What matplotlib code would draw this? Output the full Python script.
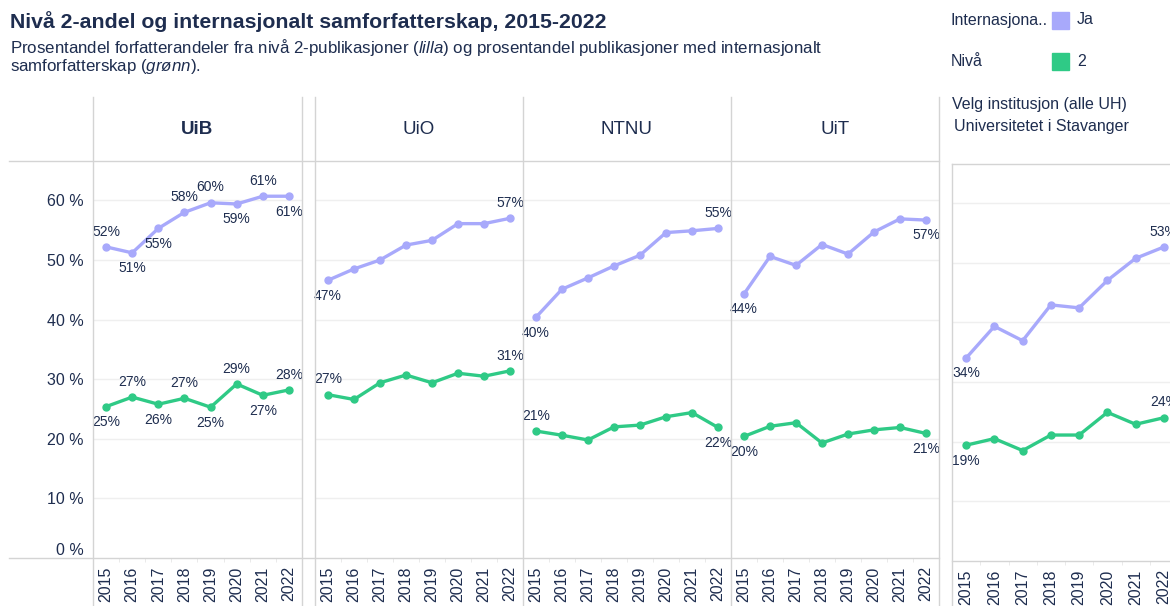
import matplotlib.pyplot as plt
from matplotlib.lines import Line2D
from matplotlib.patches import Rectangle

plt.rcParams['font.family'] = ['Liberation Sans', 'DejaVu Sans']
plt.rcParams['mathtext.fontset'] = 'custom'
plt.rcParams['mathtext.it'] = 'Liberation Sans:italic'
plt.rcParams['mathtext.rm'] = 'Liberation Sans'

years = ['2015', '2016', '2017', '2018', '2019', '2020', '2021', '2022']
panels = ['UiB', 'UiO', 'NTNU', 'UiT']

# percent
uib_intl = [52.2, 51.2, 55.3, 58.0, 59.6, 59.4, 60.7, 60.7]
uib_niva2 = [25.4, 27.0, 25.8, 26.8, 25.3, 29.2, 27.3, 28.2]
uio_intl = [46.6, 48.5, 50.0, 52.5, 53.3, 56.1, 56.1, 57.0]
uio_niva2 = [27.4, 26.6, 29.4, 30.7, 29.4, 31.0, 30.5, 31.4]
ntnu_intl = [40.4, 45.1, 47.0, 49.0, 50.8, 54.6, 54.9, 55.3]
ntnu_niva2 = [21.3, 20.6, 19.8, 22.0, 22.3, 23.7, 24.4, 21.9]
uit_intl = [44.3, 50.6, 49.1, 52.6, 51.0, 54.7, 56.9, 56.7]
uit_niva2 = [20.4, 22.1, 22.7, 19.3, 20.8, 21.5, 21.9, 20.9]
uis_intl = [34.0, 39.3, 36.9, 42.9, 42.4, 47.0, 50.7, 52.6]
uis_niva2 = [19.4, 20.5, 18.5, 21.1, 21.1, 24.9, 22.9, 24.0]

PURPLE = '#a8a9fb'
GREEN = '#2fca86'
TXT = '#1e2d4f'
BORDER = '#d4d4d4'
GRID = '#efefef'

W, H = 1170, 606


def fx(x):
    return x / W


def fy(y):
    return 1 - y / H


def hline(fig, y, x0, x1):
    fig.add_artist(Line2D([fx(x0), fx(x1)], [fy(y), fy(y)], color=BORDER, lw=1))


def vline(fig, x, y0, y1):
    fig.add_artist(Line2D([fx(x), fx(x)], [fy(y0), fy(y1)], color=BORDER, lw=1))


def add_panel(fig, left, right, top, bottom, ymax):
    ax = fig.add_axes([fx(left), fy(bottom), fx(right - left), (bottom - top) / H])
    ax.set_xlim(-0.5, 7.5)
    ax.set_ylim(0, ymax)
    for s in ax.spines.values():
        s.set_visible(False)
    for g in range(10, 70, 10):
        ax.axhline(g, color=GRID, lw=1, zorder=0)
    ax.set_xticks(range(len(years)))
    ax.set_xticklabels(years, rotation=90, fontsize=11.5, color=TXT)
    ax.set_xticks([i + 0.5 for i in range(-1, 8)], minor=True)
    ax.tick_params(axis='x', which='major', length=0, pad=6)
    ax.tick_params(axis='x', which='minor', length=3, color='#e6e6e6')
    ax.set_yticks([])
    return ax


def draw_series(ax, vals, color, where):
    # where: one char per year, 'a' label above, 'b' below, '.' no label
    x = list(range(len(vals)))
    ax.plot(x, vals, color=color, lw=2.4, marker='o', ms=5, zorder=3,
            solid_joinstyle='round')
    for i, w in enumerate(where):
        if w not in ('a', 'b'):
            continue
        dy = 6 if w == 'a' else -6
        ax.annotate('{:.0f}%'.format(vals[i]), (i, vals[i]),
                    xytext=(0, dy), textcoords='offset points',
                    ha='center', va='bottom' if w == 'a' else 'top',
                    fontsize=10, color=TXT, zorder=4)


fig = plt.figure(figsize=(11.70, 6.06), dpi=100)

fig.text(fx(10), fy(22), 'Nivå 2-andel og internasjonalt samforfatterskap, 2015-2022',
         fontsize=15.3, fontweight='bold', color=TXT, va='center')
fig.text(fx(10), fy(48),
         'Prosentandel forfatterandeler fra nivå 2-publikasjoner ($\\it{lilla}$) og '
         'prosentandel publikasjoner med internasjonalt',
         fontsize=12.2, color=TXT, va='center')
fig.text(fx(10), fy(67), 'samforfatterskap ($\\it{grønn}$).',
         fontsize=12.2, color=TXT, va='center')

# legend
fig.text(fx(951), fy(20), 'Internasjona..', fontsize=11.5, color=TXT, va='center')
fig.add_artist(Rectangle((fx(1052), fy(29)), 17 / W, 17 / H, color=PURPLE,
                         transform=fig.transFigure))
fig.text(fx(1077), fy(20), 'Ja', fontsize=11.5, color=TXT, va='center')
fig.text(fx(951), fy(61), 'Nivå', fontsize=11.5, color=TXT, va='center')
fig.add_artist(Rectangle((fx(1052), fy(70)), 17 / W, 17 / H, color=GREEN,
                         transform=fig.transFigure))
fig.text(fx(1077), fy(61), '2', fontsize=11.5, color=TXT, va='center')

bounds = [(93, 302), (315, 523), (523, 731), (731, 939)]
intl_all = [uib_intl, uio_intl, ntnu_intl, uit_intl]
niva_all = [uib_niva2, uio_niva2, ntnu_niva2, uit_niva2]
lab_intl = ['abbaabab', 'b......a', 'b......a', 'b......b']
lab_niva = ['babababa', 'a......a', 'a......b', 'b......b']
ymax = (558 - 161) / 5.96

for k, name in enumerate(panels):
    l, r = bounds[k]
    ax = add_panel(fig, l, r, 161, 558, ymax)
    draw_series(ax, intl_all[k], PURPLE, lab_intl[k])
    draw_series(ax, niva_all[k], GREEN, lab_niva[k])
    fig.text(fx((l + r) / 2), fy(130), name, ha='center', va='center',
             fontsize=13.5, color=TXT, fontweight='bold' if name == 'UiB' else 'normal')
    if k == 0:
        ax.set_yticks(range(0, 70, 10))
        ax.set_yticklabels(['{} %'.format(v) for v in range(0, 70, 10)],
                           fontsize=11.5, color=TXT)
        ax.tick_params(axis='y', length=0, pad=7)
        ax.get_yticklabels()[0].set_va('bottom')

# grid borders of the trellis
hline(fig, 161, 9, 939)
hline(fig, 558, 9, 939)
for x in (93, 302, 315, 523, 731, 939):
    vline(fig, x, 97, 606)

# selected institution panel
fig.text(fx(952), fy(105), 'Velg institusjon (alle UH)', fontsize=11.5,
         color=TXT, va='center')
fig.text(fx(954), fy(126), 'Universitetet i Stavanger', fontsize=11.5,
         color=TXT, va='center')
ax5 = add_panel(fig, 952, 1178, 164, 561, (561 - 164) / 5.97)
draw_series(ax5, uis_intl, PURPLE, 'b......a')
draw_series(ax5, uis_niva2, GREEN, 'b......a')
hline(fig, 164, 952, 1170)
hline(fig, 561, 952, 1170)
vline(fig, 952, 164, 606)

fig.savefig('out.png', dpi=100)
